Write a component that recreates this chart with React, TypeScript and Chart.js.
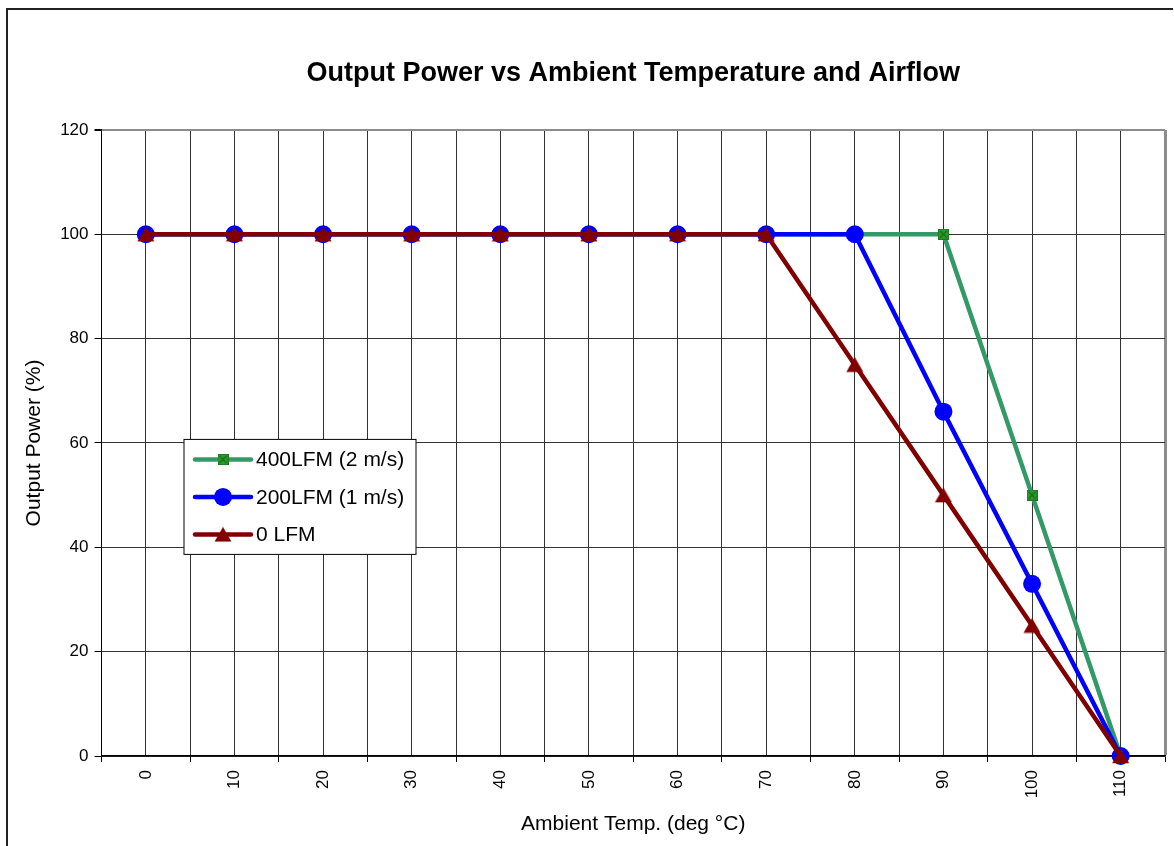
import React, { useEffect, useRef } from "react";
import { Chart, registerables } from "chart.js";

Chart.register(...registerables);

const FONT = "'Liberation Sans', Arial, Helvetica, sans-serif";

const chartTitle = "Output Power vs Ambient Temperature and Airflow";
const xAxisTitle = "Ambient Temp. (deg °C)";
const yAxisTitle = "Output Power (%)";

const temps = [0, 10, 20, 30, 40, 50, 60, 70, 80, 90, 100, 110];
const lfm400 = [100, 100, 100, 100, 100, 100, 100, 100, 100, 100, 50, 0];
const lfm200 = [100, 100, 100, 100, 100, 100, 100, 100, 100, 66, 33, 0];
const lfm0 = [100, 100, 100, 100, 100, 100, 100, 100, 75, 50, 25, 0];
const seriesLabels = ["400LFM (2 m/s)", "200LFM (1 m/s)", "0 LFM"];

const yMin = 0;
const yMax = 120;
const yStep = 20;

function makeSquareMarker(): HTMLCanvasElement {
  const c = document.createElement("canvas");
  c.width = 11;
  c.height = 11;
  const g = c.getContext("2d")!;
  g.fillStyle = "#1f7a1f";
  g.fillRect(0, 0, 11, 11);
  g.fillStyle = "#2e9a2e";
  g.fillRect(1, 1, 9, 9);
  g.strokeStyle = "#107010";
  g.lineWidth = 1.2;
  g.beginPath();
  g.moveTo(2, 2);
  g.lineTo(9, 9);
  g.moveTo(9, 2);
  g.lineTo(2, 9);
  g.stroke();
  return c;
}

function makeTriangleMarker(): HTMLCanvasElement {
  const c = document.createElement("canvas");
  c.width = 18;
  c.height = 16;
  const g = c.getContext("2d")!;
  g.fillStyle = "#800000";
  g.beginPath();
  g.moveTo(9, 0.5);
  g.lineTo(17.5, 15.2);
  g.lineTo(0.5, 15.2);
  g.closePath();
  g.fill();
  return c;
}

const borderPlugin = {
  id: "outerBorder",
  beforeDraw(chart: any) {
    const ctx = chart.ctx;
    ctx.save();
    ctx.fillStyle = "#ffffff";
    ctx.fillRect(0, 0, chart.width, chart.height);
    ctx.strokeStyle = "#222222";
    ctx.lineWidth = 2;
    ctx.beginPath();
    ctx.moveTo(7, chart.height + 2);
    ctx.lineTo(7, 9);
    ctx.lineTo(1173, 9);
    ctx.stroke();
    ctx.restore();
  },
};

const insideLegendPlugin = {
  id: "insideLegend",
  afterDraw(chart: any) {
    const ctx = chart.ctx;
    const area = chart.chartArea;
    const x0 = area.left + 82.5;
    const y0 = area.top + 309.5;
    const w = 232;
    const h = 115;
    ctx.save();
    ctx.fillStyle = "#ffffff";
    ctx.fillRect(x0, y0, w, h);
    ctx.strokeStyle = "#000000";
    ctx.lineWidth = 1;
    ctx.strokeRect(x0, y0, w, h);
    const ds = chart.data.datasets;
    ds.forEach((d: any, i: number) => {
      const cy = y0 + 20 + i * 37.5;
      ctx.strokeStyle = d.borderColor;
      ctx.lineWidth = d.borderWidth;
      ctx.lineCap = "round";
      ctx.beginPath();
      ctx.moveTo(x0 + 11, cy);
      ctx.lineTo(x0 + 67, cy);
      ctx.stroke();
      const mx = x0 + 39;
      const ps = d.pointStyle;
      if (ps && typeof ps !== "string") {
        ctx.drawImage(ps, mx - ps.width / 2, cy - ps.height / 2);
      } else {
        ctx.fillStyle = d.pointBackgroundColor;
        ctx.beginPath();
        ctx.arc(mx, cy, d.pointRadius, 0, Math.PI * 2);
        ctx.fill();
      }
      ctx.fillStyle = "#000000";
      ctx.font = `21px ${FONT}`;
      ctx.textBaseline = "middle";
      ctx.textAlign = "left";
      ctx.fillText(d.label, x0 + 72, cy + 1);
    });
    ctx.restore();
  },
};

export default function App() {
  const canvasRef = useRef<HTMLCanvasElement | null>(null);

  useEffect(() => {
    const canvas = canvasRef.current;
    if (!canvas) return;
    const squareMarker = makeSquareMarker();
    const triangleMarker = makeTriangleMarker();

    const toPoints = (vals: number[]) => temps.map((t, i) => ({ x: t, y: vals[i] }));
    const step = temps[1] - temps[0];
    const xTickValues: number[] = [];
    temps.forEach((t) => {
      xTickValues.push(t - step / 2);
      xTickValues.push(t);
    });
    xTickValues.push(temps[temps.length - 1] + step / 2);
    const xMin = temps[0] - step / 2;
    const xMax = temps[temps.length - 1] + step / 2;

    const chart = new Chart(canvas, {
      type: "line",
      data: {
        datasets: [
          {
            label: seriesLabels[0],
            data: toPoints(lfm400),
            borderColor: "#339966",
            backgroundColor: "#339966",
            borderWidth: 4.5,
            pointStyle: squareMarker as any,
            pointRadius: 6,
            pointBackgroundColor: "#2e9a2e",
            order: 3,
          },
          {
            label: seriesLabels[1],
            data: toPoints(lfm200),
            borderColor: "#0000ff",
            backgroundColor: "#0000ff",
            borderWidth: 4.5,
            pointStyle: "circle",
            pointRadius: 9,
            pointBorderWidth: 0,
            pointBackgroundColor: "#0000ff",
            order: 2,
          },
          {
            label: seriesLabels[2],
            data: toPoints(lfm0),
            borderColor: "#800000",
            backgroundColor: "#800000",
            borderWidth: 4.5,
            pointStyle: triangleMarker as any,
            pointRadius: 9,
            pointBackgroundColor: "#800000",
            order: 1,
          },
        ],
      },
      options: {
        responsive: false,
        animation: false,
        events: [],
        clip: false,
        layout: { autoPadding: false, padding: { left: 0, right: 9, top: 0, bottom: 0 } },
        plugins: {
          legend: { display: false },
          tooltip: { enabled: false },
          title: {
            display: true,
            text: chartTitle,
            fullSize: false,
            color: "#000",
            font: { family: FONT, size: 27, weight: "bold" },
            padding: { top: 57.5, bottom: 40 },
          },
        },
        scales: {
          x: {
            type: "linear",
            min: xMin,
            max: xMax,
            afterBuildTicks: (scale: any) => {
              scale.ticks = xTickValues.map((v) => ({ value: v }));
            },
            afterFit: (scale: any) => {
              scale.height = 90;
              scale.paddingLeft = 0;
              scale.paddingRight = 0;
            },
            ticks: {
              autoSkip: false,
              minRotation: 90,
              maxRotation: 90,
              padding: 8,
              color: "#000",
              font: { family: FONT, size: 17 },
              callback: (value: any) => (temps.includes(Number(value)) ? String(value) : []),
            },
            grid: {
              drawTicks: true,
              tickLength: 6,
              color: (ctx: any) => {
                const v = ctx.tick?.value;
                if (v === xMax) return "#8c8c8c";
                if (v === xMin) return "#000";
                return "#333";
              },
              lineWidth: (ctx: any) => (ctx.tick?.value === xMax ? 3 : 1),
              tickColor: (ctx: any) =>
                temps.includes(ctx.tick?.value) ? "rgba(0,0,0,0)" : "#000",
              tickWidth: 1,
            },
            border: { display: true, color: "#000", width: 1.5 },
            title: {
              display: true,
              text: xAxisTitle,
              color: "#000",
              font: { family: FONT, size: 21 },
              padding: { top: 0, bottom: 9.4 },
            },
          },
          y: {
            type: "linear",
            min: yMin,
            max: yMax,
            afterFit: (scale: any) => {
              scale.width = 101.5;
            },
            ticks: {
              stepSize: yStep,
              padding: 6,
              color: "#000",
              font: { family: FONT, size: 17 },
            },
            grid: {
              drawTicks: true,
              tickLength: 7,
              color: (ctx: any) => (ctx.tick?.value === yMax ? "#8c8c8c" : "#333"),
              lineWidth: (ctx: any) => (ctx.tick?.value === yMax ? 2 : 1),
              tickColor: "#000",
            },
            border: { display: true, color: "#000", width: 1 },
            title: {
              display: true,
              text: yAxisTitle,
              color: "#000",
              font: { family: FONT, size: 21 },
              padding: { top: 21.4, bottom: 0 },
            },
          },
        },
      },
      plugins: [borderPlugin, insideLegendPlugin],
    } as any);

    return () => {
      chart.destroy();
    };
  }, []);

  return (
    <div style={{ position: "absolute", left: 0, top: 0, width: 1174, height: 846 }}>
      <canvas ref={canvasRef} width={1174} height={846} style={{ width: 1174, height: 846, display: "block" }} />
    </div>
  );
}
